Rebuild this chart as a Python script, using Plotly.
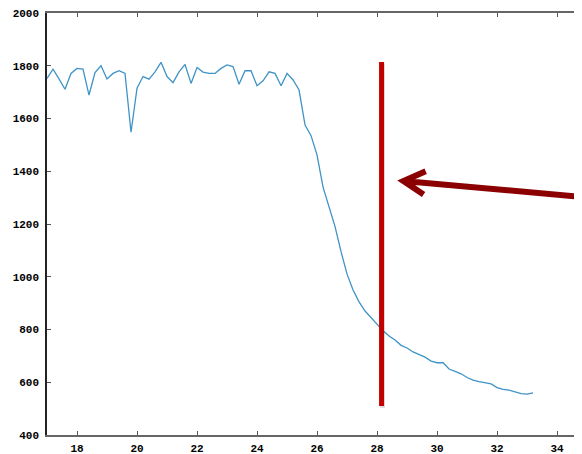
import plotly.graph_objects as go

# Data
x_vals = [round(17.0 + 0.2 * i, 1) for i in range(82)]
y_vals = [1752, 1787, 1750, 1711, 1771, 1790, 1787, 1689, 1774, 1800,
          1750, 1771, 1781, 1771, 1548, 1715, 1759, 1749, 1777, 1813,
          1759, 1736, 1777, 1805, 1733, 1793, 1776, 1771, 1771, 1790,
          1803, 1797, 1730, 1781, 1781, 1724, 1743, 1777, 1771, 1724,
          1771, 1746, 1708, 1575, 1535, 1461, 1340, 1260, 1190, 1095,
          1010, 950, 905, 870, 845, 823, 795, 775, 760, 740,
          730, 715, 705, 695, 680, 674, 674, 650, 641, 632,
          618, 608, 602, 597, 594, 580, 573, 570, 563, 557,
          555, 560]

x_ticks = [18, 20, 22, 24, 26, 28, 30, 32, 34]
y_ticks = [400, 600, 800, 1000, 1200, 1400, 1600, 1800, 2000]

# annotation geometry (data units)
marker_x = 28.15
marker_y = [510, 1814]
arrow_tip = (28.88, 1363)
arrow_tail = (34.9, 1302)
arrow_wing1 = (29.62, 1400)
arrow_wing2 = (29.55, 1312)

fig = go.Figure()
fig.add_trace(go.Scatter(x=x_vals, y=y_vals, mode="lines",
                         line=dict(color="#3f93c6", width=1.3),
                         showlegend=False, hoverinfo="skip"))

fig.add_shape(type="line", x0=marker_x + 0.03, x1=marker_x + 0.03,
              y0=marker_y[0] - 8, y1=marker_y[1] - 8,
              line=dict(color="rgba(0,0,0,0.12)", width=5))
fig.add_shape(type="line", x0=marker_x, x1=marker_x, y0=marker_y[0], y1=marker_y[1],
              line=dict(color="#c30000", width=5))

arrow_path = (f"M {arrow_tail[0]},{arrow_tail[1]} L {arrow_tip[0]},{arrow_tip[1]} "
              f"M {arrow_wing1[0]},{arrow_wing1[1]} L {arrow_tip[0]},{arrow_tip[1]} "
              f"L {arrow_wing2[0]},{arrow_wing2[1]}")
fig.add_shape(type="path", path=arrow_path, line=dict(color="#8b0000", width=6))

tickfont = dict(family="Liberation Mono", size=11, color="#000000", weight="bold")

# page body has an 8px margin, so the figure is sized to end at the window edge
fig.update_layout(
    width=574, height=446,
    margin=dict(l=39, r=0, t=5, b=19),
    paper_bgcolor="white", plot_bgcolor="white",
    template="none",
    showlegend=False,
)
fig.update_xaxes(range=[17, 34.83], tickvals=x_ticks, ticks="inside", ticklen=4,
                 tickcolor="#555", showline=True, linecolor="#666", linewidth=2,
                 mirror="ticks", showgrid=False, zeroline=False, tickfont=tickfont,
                 automargin=False, ticklabelstandoff=2, ticklabeloverflow="allow")
fig.update_yaxes(range=[400, 2000], tickvals=y_ticks, ticks="inside", ticklen=4,
                 tickcolor="#555", showline=True, linecolor="#222", linewidth=1.5,
                 showgrid=False, zeroline=False, tickfont=tickfont,
                 automargin=False, ticklabelstandoff=4, ticklabeloverflow="allow")

fig.write_html("out.html")
